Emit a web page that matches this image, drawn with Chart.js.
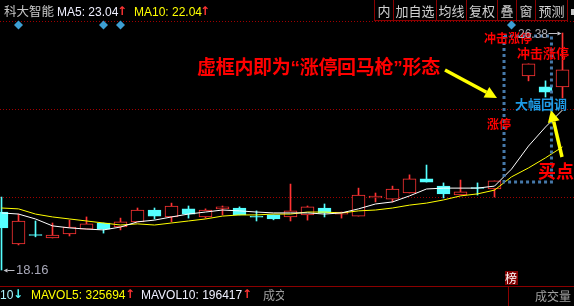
<!DOCTYPE html>
<html>
<head>
<meta charset="utf-8">
<script src="https://cdn.jsdelivr.net/npm/chart.js@4/dist/chart.umd.min.js"></script>
<style>
  html, body { margin: 0; padding: 0; background: #000; overflow: hidden; }
  #wrap { position: relative; width: 574px; height: 306px; background: #000; }
  #c { position: absolute; left: 0; top: 0; }
  .t { position: absolute; white-space: nowrap; line-height: 1; font-family: "Liberation Sans", Arial, sans-serif; }
  .cjk { font-family: "Noto Sans CJK SC", sans-serif; }
  .btn { position: absolute; top: 0; height: 21px; box-sizing: border-box; border-right: 1px solid #8b0000;
         border-bottom: 1px solid #8b0000; color: #d0d0d0; font: 13px "Noto Sans CJK SC", sans-serif;
         line-height: 1; text-align: center; padding-top: 4px; }
  .note { position: absolute; white-space: nowrap; line-height: 1; font-family: "Noto Sans CJK SC", sans-serif; font-weight: bold; color: #ff0000; }
  .arr { font-family: "DejaVu Sans", sans-serif; color: #ff3333; font-weight: bold; }
</style>
</head>
<body>
<div id="wrap">
  <canvas id="c" width="574" height="306"></canvas>

  <!-- header -->
  <div class="t cjk" style="left:4px;top:5px;font-size:12.5px;color:#c8c8c8">科大智能</div>
  <div class="t" style="left:57px;top:6px;font-size:12px;color:#f0f0ff">MA5: 23.04</div>
  <div class="t arr" style="left:117px;top:5px;font-size:12px">↑</div>
  <div class="t" style="left:134px;top:6px;font-size:12px;color:#ffff00">MA10: 22.04</div>
  <div class="t arr" style="left:200px;top:5px;font-size:12px">↑</div>

  <div class="btn" style="left:374px;width:20px;border-left:1px solid #8b0000">内</div>
  <div class="btn" style="left:394px;width:43px">加自选</div>
  <div class="btn" style="left:437px;width:30px">均线</div>
  <div class="btn" style="left:467px;width:31px">复权</div>
  <div class="btn" style="left:498px;width:19px">叠</div>
  <div class="btn" style="left:517px;width:19px">窗</div>
  <div class="btn" style="left:536px;width:32px">预测</div>
  <div style="position:absolute;left:571px;top:9px;width:4px;height:6px;background:#c8c8c8"></div>

  <!-- notes -->
  <div class="note" style="left:197px;top:56px;font-size:19px;letter-spacing:-0.3px">虚框内即为<span style="font-family:'Liberation Sans'">“</span>涨停回马枪<span style="font-family:'Liberation Sans'">”</span>形态</div>
  <div class="note" style="left:484px;top:32px;font-size:12px">冲击涨停</div>
  <div class="note" style="left:517px;top:46px;font-size:13px">冲击涨停</div>
  <div class="note" style="left:515px;top:97px;font-size:13px;color:#1e9be6">大幅回调</div>
  <div class="note" style="left:487px;top:118px;font-size:12px">涨停</div>
  <div class="note" style="left:538px;top:161px;font-size:18px">买点</div>
  <div class="t" style="left:518px;top:28px;font-size:12px;color:#a8a8b0">26.38</div>
  <div class="t" style="left:16px;top:263px;font-size:13px;color:#a8a8b8">18.16</div>

  <div style="position:absolute;left:505px;top:271px;width:13px;height:14px;background:#800000"></div>
  <div class="t cjk" style="left:505px;top:272px;font-size:12px;color:#fff">榜</div>

  <!-- footer -->
  <div style="position:absolute;left:0;top:286px;width:574px;height:1px;background:#8b0000"></div>
  <div style="position:absolute;left:508px;top:286px;width:1px;height:20px;background:#8b0000"></div>
  <div class="t" style="left:0;top:289px;font-size:12px;color:#b0f4ff">10</div>
  <div class="t arr" style="left:13px;top:288px;font-size:12px;color:#55ffff">↓</div>
  <div class="t" style="left:31px;top:289px;font-size:12px;color:#ffff00">MAVOL5: 325694</div>
  <div class="t arr" style="left:125px;top:288px;font-size:12px">↑</div>
  <div class="t" style="left:141px;top:289px;font-size:12px;color:#f0f0ff">MAVOL10: 196417</div>
  <div class="t arr" style="left:242px;top:288px;font-size:12px">↑</div>
  <div class="t cjk" style="left:263px;top:289px;font-size:12px;color:#a0a0a0;width:21px;overflow:hidden">成交</div>
  <div class="t cjk" style="left:535px;top:290px;font-size:12px;color:#a0a0a0">成交量</div>
</div>

<script>
// daily candles, index = trading day; day 30 (the limit-up bar) is blank in the picture
const opens  = [20.17, 19.06, 19.39, 19.27, 19.41, 19.58, 19.79, 19.65, 19.83, 20.24,
                20.00, 20.28, 20.00, 20.28, 20.31, 20.02, 20.07, 20.00, 20.07, 20.31,
                20.10, 20.03, 20.66, 20.62, 20.83, 21.32, 21.07, 20.76, 21.02, 20.97,
                null,  24.89, 24.51, 24.51];
const closes = [19.62, 19.86, 19.36, 19.37, 19.65, 19.76, 19.58, 19.83, 20.24, 20.03,
                20.38, 20.10, 20.24, 20.35, 20.07, 19.99, 19.93, 20.21, 20.35, 20.14,
                20.17, 20.76, 20.72, 20.97, 21.32, 21.21, 20.80, 20.87, 20.99, 21.25,
                null,  25.31, 24.33, 25.10];
const highs  = [20.69, 20.10, 19.86, 19.79, 19.89, 20.00, 19.79, 19.96, 20.31, 20.31,
                20.48, 20.38, 20.28, 20.38, 20.35, 20.21, 20.07, 21.14, 20.38, 20.45,
                20.17, 21.00, 20.83, 21.07, 21.46, 21.80, 21.18, 21.28, 21.18, 21.25,
                null,  25.31, 24.72, 26.38];
const lows   = [18.16, 19.03, 19.31, 19.27, 19.34, 19.58, 19.44, 19.55, 19.83, 19.93,
                19.83, 19.96, 19.96, 20.07, 20.07, 19.86, 19.90, 19.86, 19.89, 20.00,
                19.96, 20.03, 20.52, 20.52, 20.83, 21.21, 20.66, 20.76, 20.76, 20.69,
                null,  24.72, 24.16, 24.13];

const ma5  = [20.14, 20.10, 19.93, 19.69, 19.62, 19.58, 19.55, 19.65, 19.83, 19.89,
              20.00, 20.10, 20.17, 20.24, 20.21, 20.17, 20.14, 20.14, 20.14, 20.10,
              20.14, 20.28, 20.45, 20.52, 20.73, 20.97, 21.00, 21.00, 21.00, 21.07,
              21.66, 22.46, 23.12, 23.71];
const ma10 = [20.31, 20.28, 20.10, 20.00, 19.93, 19.86, 19.79, 19.72, 19.76, 19.72,
              19.79, 19.86, 19.93, 20.03, 20.07, 20.07, 20.10, 20.10, 20.17, 20.17,
              20.14, 20.21, 20.24, 20.31, 20.41, 20.48, 20.59, 20.73, 20.80, 20.93,
              21.39, 21.70, 22.05, 22.43];

const signalDays = [1, 6, 7, 30];
const signalLevel = 26.66;
const gridPrices = [23.74, 20.69];
const patternBox = { from: 29.56, to: 32.35, top: 26.28, bottom: 21.21 };

const UP = "#ff3333";
const DOWN = "#55ffff";

const days = opens.map((o, i) => i).filter((i) => opens[i] !== null);
const isUp = (i) => closes[i] >= opens[i];

const wicks = days.map((i) => ({ x: i, y: [lows[i], highs[i]] }));
const bodies = days.map((i) => ({ x: i, y: [opens[i], closes[i]] }));

function arrow(ctx, x1, y1, x2, y2, width, head, color) {
  const a = Math.atan2(y2 - y1, x2 - x1);
  const bx = x2 - head * Math.cos(a);
  const by = y2 - head * Math.sin(a);
  const w = head * 0.5;
  ctx.save();
  ctx.strokeStyle = color;
  ctx.fillStyle = color;
  ctx.lineWidth = width;
  ctx.beginPath();
  ctx.moveTo(x1, y1);
  ctx.lineTo(bx, by);
  ctx.stroke();
  ctx.beginPath();
  ctx.moveTo(x2, y2);
  ctx.lineTo(bx - w * Math.sin(a), by + w * Math.cos(a));
  ctx.lineTo(bx + w * Math.sin(a), by - w * Math.cos(a));
  ctx.closePath();
  ctx.fill();
  ctx.restore();
}

const overlay = {
  id: "overlay",
  beforeDatasetsDraw(chart) {
    const { ctx, chartArea } = chart;
    const ys = chart.scales.y;
    ctx.save();
    ctx.strokeStyle = "#a00000";
    ctx.lineWidth = 1;
    ctx.setLineDash([1, 2]);
    const rows = [21].concat(gridPrices.map((p) => Math.round(ys.getPixelForValue(p))));
    rows.forEach((y) => {
      ctx.beginPath();
      ctx.moveTo(chartArea.left, y + 0.5);
      ctx.lineTo(chartArea.right, y + 0.5);
      ctx.stroke();
    });
    ctx.restore();
  },
  afterDatasetsDraw(chart) {
    const { ctx } = chart;
    const xs = chart.scales.x;
    const ys = chart.scales.y;

    // dotted frame round the pattern
    const l = xs.getPixelForValue(patternBox.from);
    const r = xs.getPixelForValue(patternBox.to);
    const t = ys.getPixelForValue(patternBox.top);
    const b = ys.getPixelForValue(patternBox.bottom);
    ctx.save();
    ctx.strokeStyle = "#4679aa";
    ctx.lineWidth = 3;
    ctx.setLineDash([3, 3]);
    ctx.strokeRect(l, t, r - l, b - t);
    ctx.restore();

    // high / low price pointers
    const last = opens.length - 1;
    const hx = xs.getPixelForValue(last);
    const hy = Math.round(ys.getPixelForValue(highs[last])) + 0.5;
    arrow(ctx, hx - 14, hy, hx - 1, hy, 1, 4, "#c0c0c8");
    const lx = xs.getPixelForValue(0);
    const ly = Math.round(ys.getPixelForValue(lows[0])) + 0.5;
    arrow(ctx, lx + 13, ly, lx + 2, ly, 1, 4, "#c0c0c8");

    // yellow callout arrows
    arrow(ctx, 445, 70, 497, 98, 3.5, 12, "#ffff00");
    arrow(ctx, 562, 157, 551, 110, 3.5, 12, "#ffff00");
  },
};

new Chart(document.getElementById("c"), {
  type: "bar",
  data: {
    datasets: [
      {
        type: "line",
        label: "MA5",
        data: ma5.map((v, i) => ({ x: i, y: v })),
        borderColor: "#ffffff",
        borderWidth: 1,
        pointRadius: 0,
        tension: 0,
        order: 1,
      },
      {
        type: "line",
        label: "MA10",
        data: ma10.map((v, i) => ({ x: i, y: v })),
        borderColor: "#ffff00",
        borderWidth: 1,
        pointRadius: 0,
        tension: 0,
        order: 2,
      },
      {
        type: "line",
        label: "signal",
        data: signalDays.map((d) => ({ x: d, y: signalLevel })),
        showLine: false,
        pointStyle: "rectRot",
        pointRadius: 4.5,
        pointBackgroundColor: "#3d9fd3",
        pointBorderWidth: 0,
        order: 0,
      },
      {
        label: "body",
        data: bodies,
        backgroundColor: days.map((i) => (isUp(i) ? "#000000" : DOWN)),
        borderColor: days.map((i) => (isUp(i) ? UP : DOWN)),
        borderWidth: 1,
        borderSkipped: false,
        barThickness: 13,
        grouped: false,
        order: 3,
      },
      {
        label: "wick",
        data: wicks,
        backgroundColor: days.map((i) => (isUp(i) ? UP : DOWN)),
        borderWidth: 0,
        barThickness: 1,
        grouped: false,
        order: 4,
      },
    ],
  },
  options: {
    responsive: false,
    animation: false,
    devicePixelRatio: 1,
    events: [],
    layout: { padding: 0, autoPadding: false },
    scales: {
      x: { type: "linear", display: false, offset: false, min: -0.0882, max: 33.676 },
      y: { type: "linear", display: false, min: 16.911, max: 27.525 },
    },
    plugins: {
      legend: { display: false },
      tooltip: { enabled: false },
    },
  },
  plugins: [overlay],
});
</script>
</body>
</html>
